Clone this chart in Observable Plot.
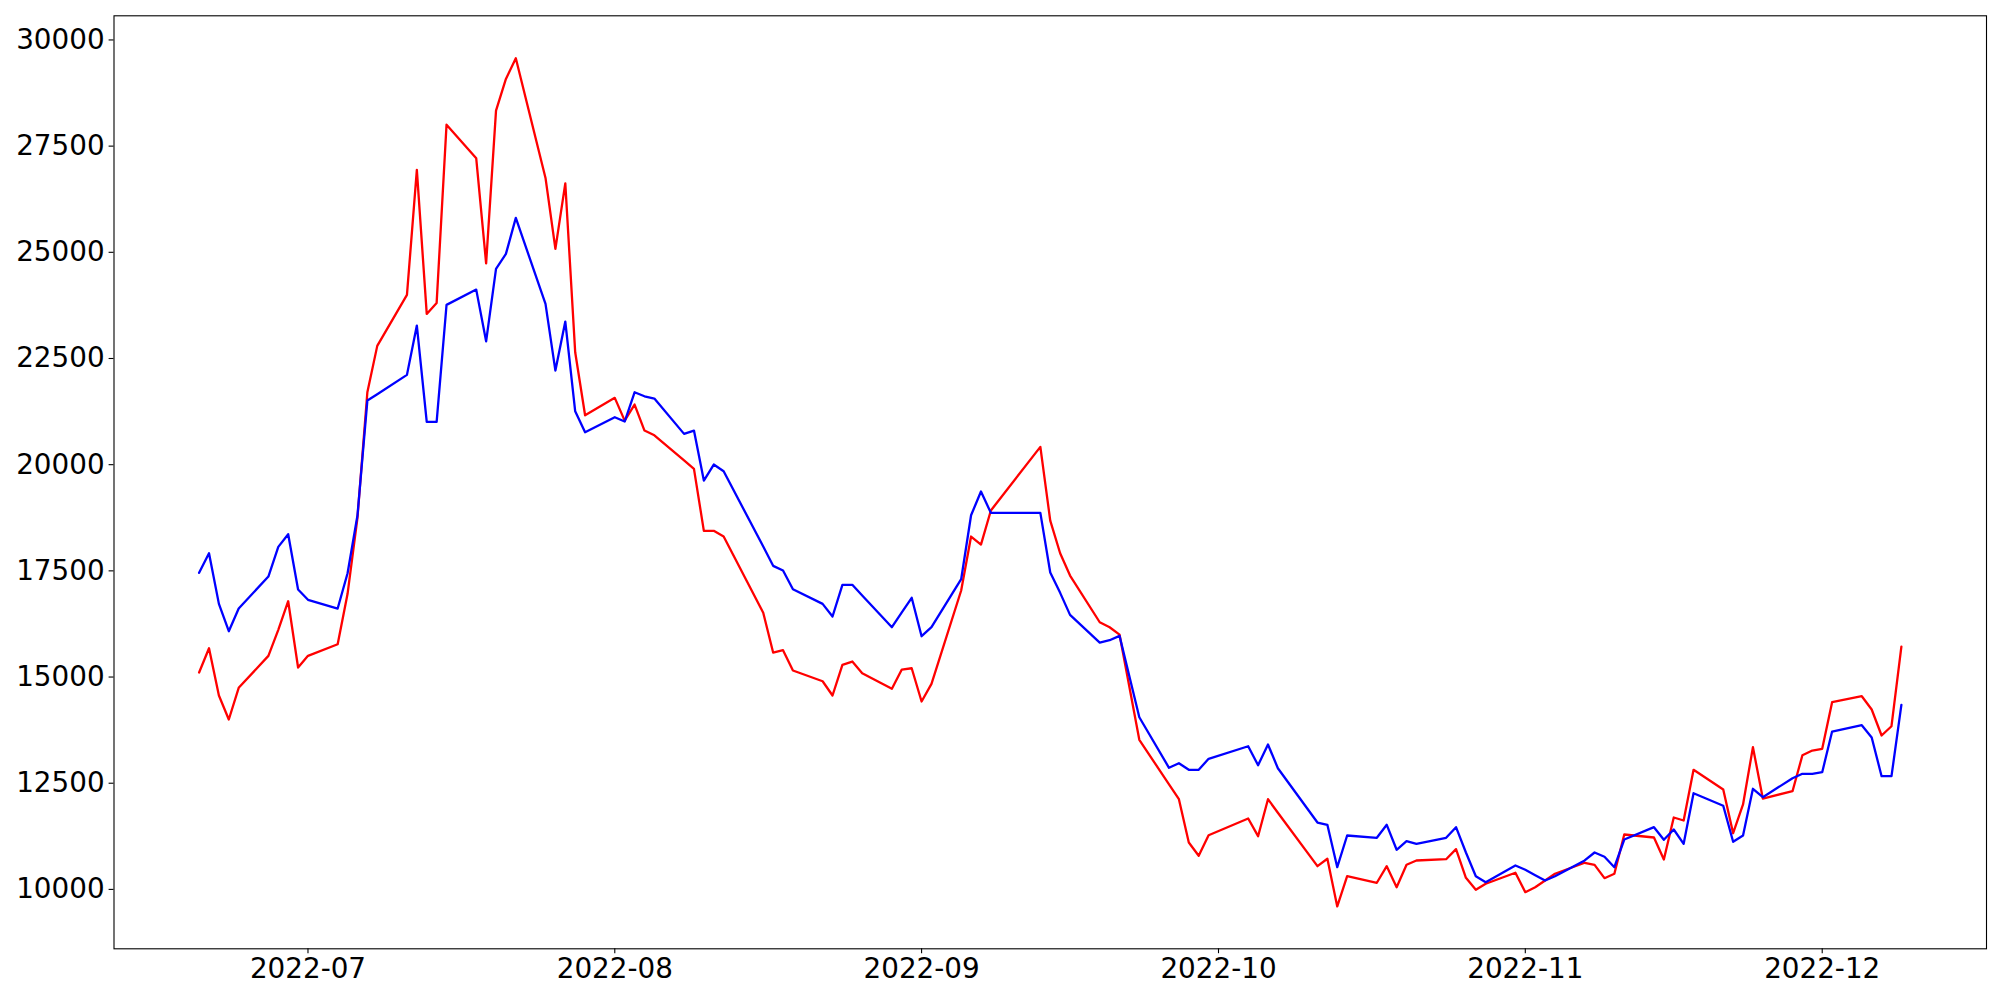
<!DOCTYPE html>
<html>
<head>
<meta charset="utf-8">
<script src="https://cdn.jsdelivr.net/npm/d3@7"></script>
<script src="https://cdn.jsdelivr.net/npm/@observablehq/plot@0.6"></script>
<style>
  html, body { margin: 0; padding: 0; background: #ffffff; }
  #chart svg { display: block; }
</style>
</head>
<body>
<div id="chart"></div>
<script>
const dates = [
  "2022-06-20","2022-06-21","2022-06-22","2022-06-23","2022-06-24",
  "2022-06-27","2022-06-28","2022-06-29","2022-06-30","2022-07-01",
  "2022-07-04","2022-07-05","2022-07-06","2022-07-07","2022-07-08",
  "2022-07-11","2022-07-12","2022-07-13","2022-07-14","2022-07-15",
  "2022-07-18","2022-07-19","2022-07-20","2022-07-21","2022-07-22",
  "2022-07-25","2022-07-26","2022-07-27","2022-07-28","2022-07-29",
  "2022-08-01","2022-08-02","2022-08-03","2022-08-04","2022-08-05",
  "2022-08-08","2022-08-09","2022-08-10","2022-08-11","2022-08-12",
  "2022-08-16","2022-08-17","2022-08-18","2022-08-19",
  "2022-08-22","2022-08-23","2022-08-24","2022-08-25","2022-08-26",
  "2022-08-29","2022-08-30","2022-08-31","2022-09-01","2022-09-02",
  "2022-09-05","2022-09-06","2022-09-07","2022-09-08",
  "2022-09-13","2022-09-14","2022-09-15","2022-09-16",
  "2022-09-19","2022-09-20","2022-09-21","2022-09-23",
  "2022-09-26","2022-09-27","2022-09-28","2022-09-29","2022-09-30",
  "2022-10-04","2022-10-05","2022-10-06","2022-10-07",
  "2022-10-11","2022-10-12","2022-10-13","2022-10-14",
  "2022-10-17","2022-10-18","2022-10-19","2022-10-20","2022-10-21",
  "2022-10-24","2022-10-25","2022-10-26","2022-10-27","2022-10-28",
  "2022-10-31","2022-11-01","2022-11-02","2022-11-03","2022-11-04",
  "2022-11-07","2022-11-08","2022-11-09","2022-11-10","2022-11-11",
  "2022-11-14","2022-11-15","2022-11-16","2022-11-17","2022-11-18",
  "2022-11-21","2022-11-22","2022-11-23","2022-11-24","2022-11-25",
  "2022-11-28","2022-11-29","2022-11-30","2022-12-01","2022-12-02",
  "2022-12-05","2022-12-06","2022-12-07","2022-12-08","2022-12-09"
];

const redValues = [
  15106, 15678, 14565, 14000, 14746,
  15499, 16111, 16785, 15224, 15499,
  15772, 16959, 18750, 21705, 22797,
  23997, 26940, 23550, 23809, 28006,
  27213, 24741, 28336, 29082, 29570,
  26751, 25080, 26624, 22646, 21163,
  21573, 21038, 21415, 20803, 20692,
  20100, 19901, 18442, 18442, 18308,
  16512, 15577, 15631, 15153,
  14901, 14565, 15287, 15365, 15090,
  14723, 15177, 15207, 14424, 14840,
  17037, 18308, 18119, 18920,
  20419, 18684, 17915, 17390,
  16290, 16173, 16000, 13522,
  12472, 12124, 11104, 10791, 11276,
  11669, 11253, 12124, 11806,
  10547, 10721, 9600, 10311,
  10156, 10547, 10052, 10579, 10681,
  10711, 10947, 10273, 9991, 10132,
  10391, 9935, 10052, 10210, 10368,
  10627, 10579, 10264, 10368, 11293,
  11222, 10704, 11693, 11622, 12816,
  12352, 11323, 12000, 13348, 12140,
  12312, 13159, 13270, 13310, 14407,
  14548, 14235, 13623, 13842, 15718
];

const blueValues = [
  17453, 17915, 16723, 16079, 16613,
  17366, 18065, 18362, 17060, 16818,
  16613, 17444, 18802, 21509, 21660,
  22114, 23275, 21008, 21008, 23762,
  24122, 22905, 24609, 24962, 25810,
  23785, 22215, 23369, 21257, 20763,
  21116, 21015, 21705, 21610, 21556,
  20725, 20803, 19626, 20003, 19845,
  18072, 17618, 17507, 17067,
  16723, 16425, 17171, 17171, 16921,
  16173, 16520, 16865, 15961, 16173,
  17303, 18809, 19367, 18866,
  18866, 17460, 16982, 16464,
  15812, 15867, 15970, 14054,
  12863, 12971, 12816, 12816, 13075,
  13371, 12924, 13411, 12853,
  11575, 11521, 10523, 11269,
  11215, 11521, 10933, 11135, 11074,
  11215, 11465, 10869, 10311, 10170,
  10563, 10462, 10335, 10210, 10311,
  10681, 10869, 10768, 10523, 11175,
  11465, 11168, 11410, 11074, 12265,
  11968, 11121, 11270, 12369, 12171,
  12618, 12722, 12722, 12759, 13717,
  13866, 13576, 12665, 12665, 14346
];

const yTicks = [10000, 12500, 15000, 17500, 20000, 22500, 25000, 27500, 30000];
const xTickDates = ["2022-07-01", "2022-08-01", "2022-09-01", "2022-10-01", "2022-11-01", "2022-12-01"];

const parse = d3.utcParse("%Y-%m-%d");
const redData = dates.map((d, i) => ({date: parse(d), value: redValues[i]}));
const blueData = dates.map((d, i) => ({date: parse(d), value: blueValues[i]}));

// matplotlib-style 5% margins around the data
const [lo, hi] = d3.extent(redValues.concat(blueValues));
const yPad = (hi - lo) * 0.05;
const [d0, d1] = d3.extent(dates.map(parse));
const xPad = (d1 - d0) * 0.05;

const chart = Plot.plot({
  width: 2000,
  height: 1000,
  marginLeft: 113.5,
  marginRight: 14,
  marginTop: 15.3,
  marginBottom: 51.7,
  style: {
    fontFamily: "'DejaVu Sans', sans-serif",
    fontSize: "27.8px",
    background: "#ffffff",
    color: "#000000",
    overflow: "visible"
  },
  x: {type: "utc", domain: [new Date(+d0 - xPad), new Date(+d1 + xPad)]},
  y: {domain: [lo - yPad, hi + yPad]},
  marks: [
    Plot.lineY(redData, {x: "date", y: "value", stroke: "#ff0000", strokeWidth: 2.3}),
    Plot.lineY(blueData, {x: "date", y: "value", stroke: "#0000ff", strokeWidth: 2.3}),
    Plot.frame({stroke: "#000000", strokeWidth: 1.1}),
    Plot.axisX({
      ticks: xTickDates.map(parse),
      tickFormat: d3.utcFormat("%Y-%m"),
      tickSize: 4.9,
      tickPadding: 4.5,
      strokeWidth: 1.1,
      fontSize: 27.8,
      label: null
    }),
    Plot.axisY({
      ticks: yTicks,
      tickFormat: d => String(d),
      tickSize: 4.9,
      tickPadding: 4.5,
      strokeWidth: 1.1,
      fontSize: 27.8,
      label: null
    })
  ]
});

document.getElementById("chart").appendChild(chart);
</script>
</body>
</html>
